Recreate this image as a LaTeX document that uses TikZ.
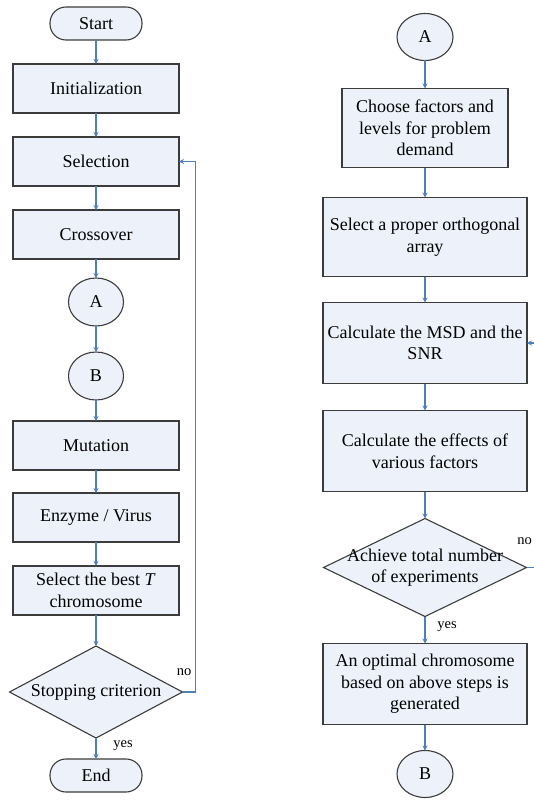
\documentclass[tikz,border=0pt]{standalone}
\usepackage{fontspec}
\setmainfont{Liberation Serif}
\usepackage{tikz}
\usetikzlibrary{arrows.meta,positioning,shapes.geometric}
\definecolor{boxBlue}{HTML}{EDF2FA}
\definecolor{edgeGray}{HTML}{3C3C3C}
\definecolor{arrowBlue}{HTML}{4F7FBA}

\begin{document}
\begin{tikzpicture}[
    x=1pt, y=1pt,
    every node/.style={font=\fontsize{18}{21.5}\selectfont, text=black, outer sep=0pt},
    box/.style={draw=edgeGray, fill=boxBlue, line width=1.1pt, minimum width=166pt, minimum height=49pt, align=center, inner sep=2pt},
    wbox/.style={box, minimum width=204pt, minimum height=81pt},
    term/.style={draw=edgeGray, fill=boxBlue, line width=1.1pt, rounded corners=16pt, minimum width=92pt, minimum height=33pt},
    conn/.style={ellipse, draw=edgeGray, fill=boxBlue, line width=1.1pt, minimum width=55pt, minimum height=48pt, inner sep=0pt},
    decide/.style={diamond, draw=edgeGray, fill=boxBlue, line width=1.1pt, align=center, inner sep=0pt},
    lbl/.style={font=\fontsize{14.5}{16}\selectfont},
    arr/.style={-{Stealth[length=5pt,width=5pt]}, line width=1.1pt, arrowBlue}
  ]
    \useasboundingbox (0,0) rectangle (533,-800);

    % left column
    \node[term] (start) at (96,-23.5) {Start};
    \node[box, below=24pt of start] (init) {Initialization};
    \node[box, below=24pt of init] (sel) {Selection};
    \node[box, below=24pt of sel] (cross) {Crossover};
    \node[conn, below=19pt of cross] (A1) {A};
    \node[conn, below=26pt of A1] (B1) {B};
    \node[box, below=21pt of B1] (mut) {Mutation};
    \node[box, below=23pt of mut] (enz) {Enzyme / Virus};
    \node[box, below=24pt of enz] (best) {Select the best \textit{T}\\chromosome};
    \node[decide, aspect=1.88, minimum width=173pt, minimum height=92pt, below=31pt of best] (stop) {Stopping criterion};
    \node[term, below=21pt of stop] (end) {End};

    \draw[arr] (start) -- (init);
    \draw[arr] (init) -- (sel);
    \draw[arr] (sel) -- (cross);
    \draw[arr] (cross) -- (A1);
    \draw[arr] (A1) -- (B1);
    \draw[arr] (B1) -- (mut);
    \draw[arr] (mut) -- (enz);
    \draw[arr] (enz) -- (best);
    \draw[arr] (best) -- (stop);
    \draw[arr] (stop) -- (end);
    \draw[arr] (stop.east) -- ++(13,0) |- (sel.east);
    \node[lbl] (no1) at ([xshift=1.5pt,yshift=20pt]stop.east) {no};
    \node[lbl] (yes1) at ([xshift=27pt,yshift=-8pt]stop.south) {yes};

    % right column
    \node[conn, minimum width=56pt, minimum height=47pt] (A2) at (425,-37) {A};
    \node[box, minimum height=79pt, below=28pt of A2] (choose) {Choose factors and\\levels for problem\\demand};
    \node[wbox, minimum height=79pt, below=30pt of choose] (ortho) {Select a proper orthogonal\\array};
    \node[wbox, below=26pt of ortho] (msd) {Calculate the MSD and the\\SNR};
    \node[wbox, below=27pt of msd] (eff) {Calculate the effects of\\various factors};
    \node[decide, aspect=2.07, inner xsep=-28pt, inner ysep=-9pt, minimum width=203pt, minimum height=98pt, below=27pt of eff] (total) {Achieve total number\\of experiments};
    \node[wbox, below=27pt of total] (opt) {An optimal chromosome\\based on above steps is\\generated};
    \node[conn, minimum width=56pt, minimum height=47pt, below=26pt of opt] (B2) {B};

    \draw[arr] (A2) -- (choose);
    \draw[arr] (choose) -- (ortho);
    \draw[arr] (ortho) -- (msd);
    \draw[arr] (msd) -- (eff);
    \draw[arr] (eff) -- (total);
    \draw[arr] (total) -- (opt);
    \draw[arr] (opt) -- (B2);
    \draw[arr] (total.east) -- ++(14,0) |- (msd.east);
    \node[lbl] (no2) at ([xshift=-2pt,yshift=26pt]total.east) {no};
    \node[lbl] (yes2) at ([xshift=22pt,yshift=-10pt]total.south) {yes};
  \end{tikzpicture}
\end{document}
